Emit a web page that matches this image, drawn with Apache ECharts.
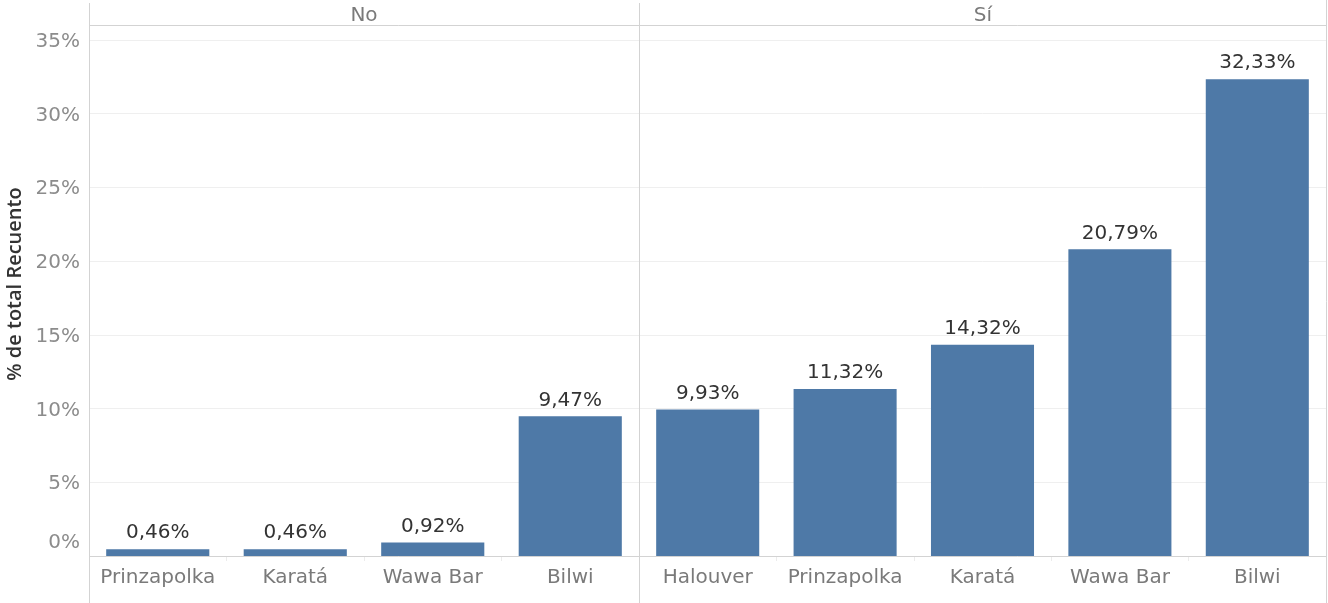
<!DOCTYPE html>
<html>
<head>
<meta charset="utf-8">
<script src="https://cdn.jsdelivr.net/npm/echarts@6/dist/echarts.min.js"></script>
<style>
html,body{margin:0;padding:0;background:#fff;}
#c{width:1328px;height:603px;}
</style>
</head>
<body>
<div id="c"></div>
<script>
const panelNames = ['No', 'Sí'];
const catsNo = ['Prinzapolka', 'Karatá', 'Wawa Bar', 'Bilwi'];
const valsNo = [0.46, 0.46, 0.92, 9.47];
const catsSi = ['Halouver', 'Prinzapolka', 'Karatá', 'Wawa Bar', 'Bilwi'];
const valsSi = [9.93, 11.32, 14.32, 20.79, 32.33];
const yTicks = [0, 5, 10, 15, 20, 25, 30, 35];
const yTitle = '% de total Recuento';

const FONT = '"DejaVu Sans", sans-serif';
const TFONT = '"Open Sans", sans-serif';
const BAR = '#4e79a7';
const fmtPct = v => v.toFixed(2).replace('.', ',') + '%';

const chart = echarts.init(document.getElementById('c'), null, {renderer: 'canvas'});

function yAxis(idx, showLabels) {
  return {
    type: 'value', gridIndex: idx, min: 0, max: 36, interval: 5,
    axisLine: {show: false}, axisTick: {show: false},
    splitLine: {show: true, lineStyle: {color: '#efefef', width: 1}},
    axisLabel: {
      show: showLabels, color: '#8c8c8c', fontSize: 20, fontFamily: FONT, margin: 9,
      formatter: v => {
        if (yTicks.indexOf(v) < 0) return '';
        if (v === 0) return '{z|0%}';
        return '{n|' + v + '%}';
      },
      rich: {
        z: {color: '#8c8c8c', fontSize: 20, fontFamily: FONT, padding: [0, 0, 26, 0]},
        n: {color: '#8c8c8c', fontSize: 20, fontFamily: FONT, padding: [4, 0, 0, 0]}
      }
    }
  };
}
function xAxis(idx, cats) {
  return {
    type: 'category', gridIndex: idx, data: cats,
    axisLine: {show: false},
    axisTick: {show: true, interval: 0, length: 5, lineStyle: {color: '#ececec'}},
    axisLabel: {interval: 0, hideOverlap: false, color: '#7a7a7a', fontSize: 20, fontFamily: FONT, margin: 12},
    splitLine: {show: false}
  };
}
function series(idx, vals) {
  return {
    type: 'bar', xAxisIndex: idx, yAxisIndex: idx, data: vals,
    barCategoryGap: '25%', itemStyle: {color: BAR},
    label: {show: true, position: 'top', distance: 6, color: '#333', fontSize: 20, fontFamily: FONT,
      formatter: p => fmtPct(p.value)},
    silent: true
  };
}

const line = (x1, y1, x2, y2, c) => ({type: 'line', shape: {x1, y1, x2, y2}, style: {stroke: c || '#d3d3d3', lineWidth: 1}, silent: true, z: 10});

chart.setOption({
  animation: false,
  grid: [
    {left: 89, right: 1328 - 639, top: 25, bottom: 603 - 556},
    {left: 639, right: 2, top: 25, bottom: 603 - 556}
  ],
  xAxis: [xAxis(0, catsNo), xAxis(1, catsSi)],
  yAxis: [yAxis(0, true), yAxis(1, false)],
  series: [series(0, valsNo), series(1, valsSi)],
  graphic: [
    line(89.5, 3, 89.5, 603),
    line(639.5, 3, 639.5, 603),
    line(1326.5, 0, 1326.5, 603),
    line(89, 25.5, 1327, 25.5),
    line(89, 556.5, 1327, 556.5),
    {type: 'text', x: 364, y: 16, style: {text: panelNames[0], fill: '#7a7a7a', font: '20px ' + FONT, align: 'center', verticalAlign: 'middle'}},
    {type: 'text', x: 983, y: 16, style: {text: panelNames[1], fill: '#7a7a7a', font: '20px ' + FONT, align: 'center', verticalAlign: 'middle'}},
    {type: 'text', x: 15, y: 284, rotation: Math.PI / 2, style: {text: yTitle, fill: '#333', font: '600 20px ' + TFONT, align: 'center', verticalAlign: 'middle'}}
  ]
});
</script>
</body>
</html>
